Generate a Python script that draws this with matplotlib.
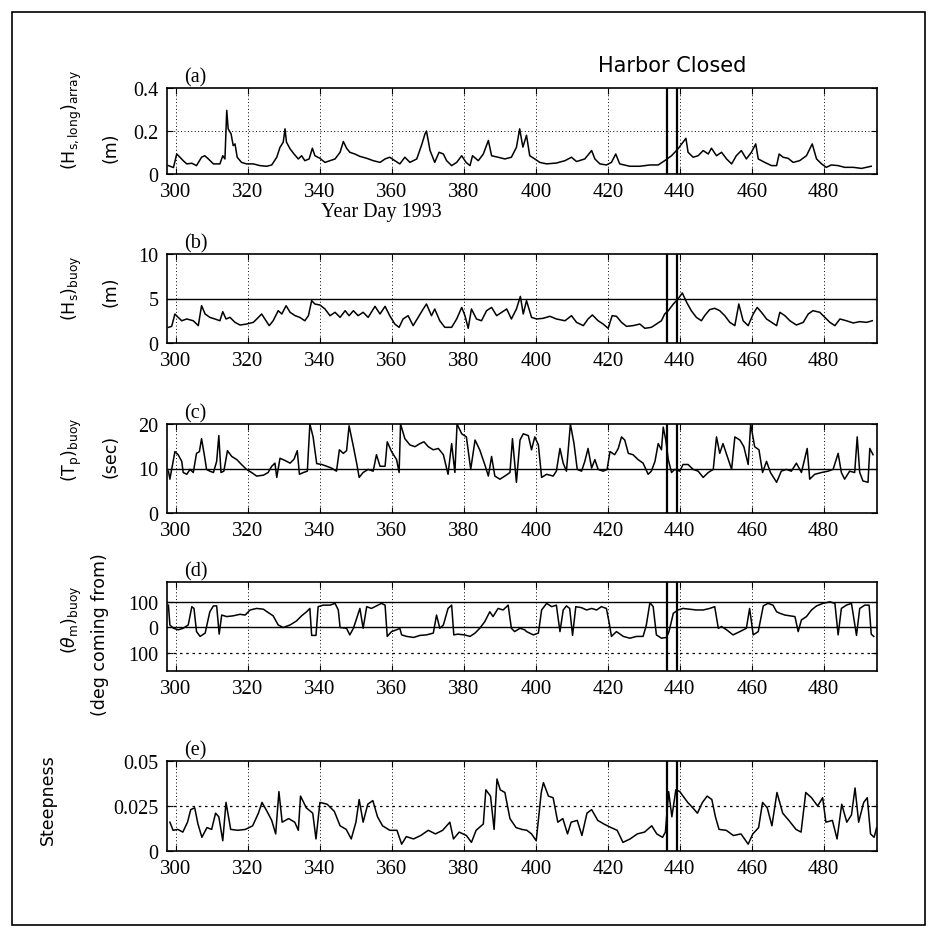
import matplotlib
matplotlib.use("Agg")
import matplotlib.pyplot as plt
from matplotlib.patches import Rectangle

plt.rcParams['mathtext.fontset'] = 'dejavusans'

# (a) long-period significant height at the array
days_a = [297.9, 299.3, 300.2, 301.1, 302, 303, 304.4, 305.7, 307.1, 308, 309, 310.4, 312.2, 313, 313.6,
          314.1, 314.5, 315.3, 315.9, 316.4, 317, 318.2, 319.6, 321.5, 323.3, 325.2, 326.6, 328, 328.9,
          329.8, 330.3, 330.7, 331.7, 332.8, 334, 334.9, 335.8, 337, 337.9, 338.6, 340, 341.4, 342.8,
          344.2, 345.6, 346.5, 347.4, 348.3, 349.7, 351.1, 353, 354.8, 356.7, 358.1, 359.4, 360.8, 362.2,
          363.6, 365, 366.9, 368.2, 369.2, 369.6, 370.6, 371.9, 373.1, 374.3, 375.2, 376.6, 378, 379.4,
          380.6, 381.7, 382.4, 384, 385.4, 386.8, 387.7, 389.5, 391.4, 393.2, 394.6, 395.5, 396.4, 397.4,
          398.3, 399.7, 401.1, 403, 405.7, 408.1, 409.9, 411.3, 413.6, 415.5, 416.4, 417.8, 419.6, 421,
          422.2, 423.3, 426.1, 428.9, 431.7, 434, 435.8, 437.7, 439.5, 440.9, 441.7, 442.3, 443.7, 445.1,
          446.5, 447.9, 448.8, 450.2, 451.6, 453, 454.4, 455.7, 457.1, 458.5, 459.9, 461.1, 461.8, 463.6,
          465.5, 466.9, 467.6, 468.7, 470.1, 471.5, 473.3, 475.2, 476.8, 478, 479.4, 480.7, 482.1, 484,
          485.8, 488.2, 490.5, 491.9, 493.2]
hs_long = [0.039, 0.030, 0.093, 0.078, 0.062, 0.047, 0.050, 0.039, 0.078, 0.085, 0.070, 0.047, 0.047, 0.085, 0.070,
           0.296, 0.210, 0.187, 0.132, 0.140, 0.078, 0.054, 0.047, 0.047, 0.039, 0.036, 0.042, 0.078, 0.124,
           0.148, 0.210, 0.148, 0.117, 0.093, 0.070, 0.085, 0.062, 0.070, 0.120, 0.085, 0.073, 0.054, 0.062,
           0.070, 0.101, 0.151, 0.120, 0.101, 0.093, 0.082, 0.073, 0.062, 0.054, 0.070, 0.078, 0.062, 0.047,
           0.078, 0.054, 0.070, 0.132, 0.187, 0.200, 0.109, 0.054, 0.101, 0.093, 0.062, 0.039, 0.054, 0.085,
           0.054, 0.039, 0.085, 0.062, 0.093, 0.156, 0.085, 0.078, 0.070, 0.078, 0.124, 0.210, 0.125, 0.180,
           0.085, 0.070, 0.054, 0.047, 0.051, 0.062, 0.078, 0.058, 0.070, 0.109, 0.070, 0.047, 0.042, 0.054,
           0.093, 0.047, 0.036, 0.036, 0.042, 0.042, 0.062, 0.085, 0.117, 0.148, 0.166, 0.101, 0.078, 0.085,
           0.109, 0.093, 0.120, 0.085, 0.101, 0.070, 0.047, 0.085, 0.109, 0.070, 0.101, 0.140, 0.070, 0.054,
           0.039, 0.039, 0.093, 0.078, 0.073, 0.054, 0.062, 0.085, 0.140, 0.070, 0.047, 0.031, 0.042, 0.039,
           0.031, 0.031, 0.026, 0.031, 0.036]

# (b) buoy significant wave height
days_b = [297.9, 298.8, 299.7, 300.6, 301.6, 303, 304.8, 306.2, 307.1, 308.1, 309.4, 310.8, 312.2, 313, 313.9,
          315, 316.4, 317.8, 319.6, 321.5, 322.9, 323.8, 324.7, 325.9, 327, 328.4, 329.4, 330.6, 331.7,
          333.1, 334.4, 335.8, 336.8, 337.7, 338.6, 340, 341.4, 342.8, 344.2, 345.6, 347, 348.1, 349.3,
          350.6, 352, 353.4, 355.3, 356.7, 358.1, 359.4, 360.8, 362, 363.1, 364.5, 365.9, 367.3, 368.7,
          369.6, 371, 371.9, 373.3, 374.7, 376.6, 378, 379.4, 380.3, 381.2, 382.1, 383.5, 384.9, 386.3,
          387.7, 389.1, 390.5, 391.9, 393.2, 394.6, 395.7, 396.5, 397.4, 398.8, 400.2, 402, 403.9, 405.7,
          408.1, 409.9, 411.3, 413.2, 414.5, 415.7, 417.3, 418.7, 420.1, 421.2, 422.4, 423.8, 425.2, 427,
          428.9, 430.3, 432.1, 433.5, 434.9, 435.8, 436.8, 438.2, 439.5, 440.7, 441.9, 443.2, 444.6, 446,
          446.9, 448.3, 449.7, 451.1, 452.5, 453.9, 455.3, 456.4, 457.6, 459, 460.4, 461.5, 462.7, 464.1,
          465.5, 466.9, 467.8, 469.2, 470.6, 472.4, 474.3, 475.7, 477, 478.9, 480.3, 481.7, 483.1, 484.5,
          486.3, 488.2, 490, 491.9, 493.5]
hs_buoy = [1.76, 1.87, 3.26, 2.88, 2.50, 2.70, 2.50, 1.95, 4.19, 3.26, 2.88, 2.70, 2.50, 3.52, 2.70,
           2.88, 2.32, 2.02, 2.13, 2.32, 2.88, 3.26, 2.70, 1.95, 2.50, 3.63, 3.26, 4.19, 3.45,
           3.07, 2.88, 2.50, 3.07, 4.76, 4.38, 4.27, 3.82, 3.07, 3.45, 2.88, 3.63, 3.07, 3.63,
           3.07, 3.45, 2.88, 4.12, 3.26, 4.12, 3.07, 2.13, 1.76, 2.70, 3.07, 1.95, 2.88, 3.82,
           4.38, 3.07, 3.82, 2.50, 1.76, 1.76, 2.70, 4.00, 3.07, 1.65, 3.82, 2.70, 2.50, 3.63,
           4.00, 3.07, 3.45, 3.82, 2.70, 3.82, 5.24, 3.26, 4.76, 2.88, 2.70, 2.77, 3.00, 2.70,
           2.50, 3.07, 2.32, 1.95, 2.70, 3.15, 2.50, 2.13, 1.65, 3.07, 3.00, 2.32, 1.87, 1.95,
           2.13, 1.65, 1.76, 2.13, 2.50, 3.26, 3.63, 4.38, 4.94, 5.62, 4.57, 3.63, 2.88, 2.50,
           3.07, 3.75, 3.90, 3.63, 3.07, 2.32, 1.95, 4.38, 2.50, 1.95, 3.26, 4.00, 3.45, 2.70,
           2.32, 1.95, 3.45, 3.07, 2.50, 2.02, 2.32, 3.26, 3.63, 3.45, 2.88, 2.32, 1.95, 2.70,
           2.50, 2.25, 2.40, 2.32, 2.50]

# (c) buoy peak period
days_c = [297.9, 298.3, 298.8, 299.7, 300.6, 301.6, 302, 303, 303.9, 304.8, 305.7, 306.5, 307.1, 307.8, 308.5,
          309.4, 310.4, 311.3, 311.9, 312.5, 313.3, 314.3, 315.5, 316.9, 318.2, 319.6, 321, 322.4, 324.3,
          325.6, 326.6, 327.5, 328, 328.9, 330.3, 331.7, 332.8, 333.7, 334.3, 335.4, 336.5, 337.2, 338.1,
          339.1, 340.5, 341.9, 343.2, 344.6, 345.4, 346.5, 347.4, 348.1, 349.3, 350.2, 350.9, 352, 353.4,
          354.8, 355.7, 356.7, 358.1, 358.7, 359.9, 361.3, 362, 362.4, 363.6, 365, 366.4, 367.8, 368.9,
          370.1, 371.5, 372.9, 374.3, 375.6, 376.6, 377.5, 378.1, 379.4, 380.7, 381.9, 383.1, 384.4, 385.8,
          386.8, 387.7, 388.6, 390, 391.4, 392.8, 393.5, 394.6, 395.6, 396.5, 397.9, 398.8, 399.7, 400.7,
          401.6, 403, 404.8, 405.7, 406.7, 407.6, 408.5, 409.6, 410.6, 411.5, 412.7, 413.6, 414.5, 415.5,
          416.4, 417.3, 418.7, 419.8, 420.6, 421.9, 422.9, 423.8, 424.7, 425.7, 427, 428.4, 429.8, 431.2,
          432.1, 433.1, 434, 434.9, 435.4, 436.1, 436.8, 437.7, 438.6, 440, 440.9, 442.3, 443.7, 445.1,
          446.5, 447.9, 449.3, 450.2, 451.1, 452, 453.2, 454.4, 455.3, 456.7, 457.8, 459, 459.7, 460.8,
          462, 463, 464.1, 465.2, 466.9, 468.2, 469.6, 471, 472.4, 473.8, 475.4, 476.1, 477.5, 479.4,
          481.2, 482.6, 484, 484.9, 485.8, 487.2, 488.6, 489.3, 490, 490.9, 492.3, 492.8, 493.7]
tp_buoy = [9.4, 7.6, 9.8, 13.8, 13.1, 11.6, 9.1, 8.7, 9.8, 9.1, 13.4, 13.8, 16.7, 13.4, 9.8,
           9.4, 9.1, 11.6, 17.4, 9.1, 9.4, 14.0, 12.7, 12.0, 10.9, 9.8, 9.1, 8.3, 8.5,
           9.1, 10.5, 11.2, 8.0, 12.3, 11.8, 11.2, 12.1, 14.0, 8.7, 9.1, 9.4, 20.0, 17.1,
           11.1, 10.9, 10.5, 10.1, 9.4, 14.2, 13.4, 14.0, 19.6, 14.9, 11.2, 8.0, 9.1, 9.8,
           9.4, 13.1, 10.5, 10.5, 16.0, 13.8, 12.0, 9.1, 20.0, 16.7, 15.3, 14.9, 15.6, 16.0,
           14.9, 14.2, 14.5, 13.1, 8.7, 15.6, 9.1, 20.0, 17.8, 17.1, 9.8, 16.4, 14.2, 10.9,
           8.3, 12.7, 8.3, 7.6, 8.3, 9.1, 16.7, 6.9, 16.4, 17.8, 17.4, 14.2, 17.1, 15.3,
           8.0, 8.7, 8.3, 9.4, 14.5, 11.2, 9.4, 20.0, 15.6, 9.8, 9.4, 11.6, 14.5, 10.1,
           12.0, 9.8, 9.4, 9.8, 13.8, 13.1, 14.5, 17.1, 16.4, 13.4, 13.1, 12.0, 11.2, 8.7,
           9.4, 11.6, 15.6, 14.2, 19.3, 16.4, 12.0, 9.1, 9.8, 9.4, 10.9, 10.9, 9.8, 9.4,
           8.0, 9.1, 9.8, 17.1, 13.4, 15.6, 12.7, 9.8, 17.1, 16.4, 14.9, 10.9, 20.0, 14.9,
           14.2, 9.1, 11.6, 9.1, 6.9, 9.4, 9.8, 9.4, 11.2, 9.1, 14.5, 7.6, 8.7, 9.1,
           9.4, 9.8, 13.4, 9.1, 7.6, 9.4, 9.1, 17.1, 9.1, 7.2, 6.9, 14.5, 13.1]

# (d) buoy mean direction, degrees coming from
days_d = [297.9, 298.3, 299.3, 300.6, 302, 303.4, 304.4, 305, 305.7, 306.7, 308.1, 309.4, 310.4, 311.3, 312,
          312.7, 314.1, 315.9, 317.8, 319.2, 320.6, 322.4, 324.3, 325.6, 327, 328.4, 329.8, 331.7, 333.5,
          334.9, 336.3, 337.2, 337.7, 338.9, 339.5, 340.9, 342.8, 344.2, 345.1, 345.6, 347.4, 348.3, 349.3,
          350.2, 351.1, 352, 353, 354.3, 355.7, 357.1, 358.1, 358.7, 359.9, 361.3, 362.2, 362.7, 364.1,
          366, 367.8, 369.6, 371.5, 372.4, 373.3, 374.3, 375.6, 376.6, 377.2, 378.3, 380.2, 381.7, 383.1,
          384.4, 385.8, 387.2, 388.1, 389.5, 390.9, 392.3, 393.2, 394.1, 395.6, 396.9, 397.4, 399.3, 400.7,
          401.6, 403, 404.4, 405.7, 406.7, 407.6, 408.5, 409.4, 410.2, 411.1, 412.7, 414.1, 415.5, 416.9,
          418.2, 419.6, 420.4, 421, 422.4, 424.3, 426.1, 428, 429.8, 430.7, 431.7, 432.6, 433.5, 434.9,
          436.3, 437, 438.2, 439.5, 440.9, 442.8, 444.6, 446.5, 448.3, 449.7, 450.7, 451.6, 453, 454.8,
          456.7, 458.5, 459.4, 460.4, 461.8, 463.2, 464.5, 465.9, 466.9, 467.8, 469.2, 470.6, 472, 472.9,
          473.8, 475.2, 476.6, 478, 479.8, 481.7, 483.1, 484, 484.9, 486.3, 487.7, 489.1, 490, 491.4,
          492.6, 493.2, 493.9]
theta_buoy = [87, 9, -4, -10, -4, 9, 81, 74, -17, -36, -23, 61, 84, 84, -27,
              48, 42, 45, 51, 48, 68, 74, 71, 58, 45, 9, -1, 9, 25,
              45, 61, 74, -32, -32, 81, 87, 87, 94, 68, -1, -4, -30, -4,
              35, 74, -4, 81, 74, 84, 94, 87, -36, -17, -10, -4, -30, -36,
              -40, -32, -30, -23, 48, -4, 9, 74, 87, -30, -27, -30, -36, -23,
              -4, 22, 61, 42, 74, 68, 87, -4, -17, -4, -10, -17, -30, -23,
              68, 94, 81, 87, -17, 68, 84, 74, -32, 81, 77, 68, 74, 68,
              81, 74, 16, -36, -17, -36, -43, -36, -36, 9, 97, 81, -30, -43,
              -40, -17, 55, 68, 74, 71, 68, 68, 74, 81, -4, 3, -10, -30,
              -17, -4, 74, -30, -17, 84, 94, 87, 61, 55, 48, 45, 42, -17,
              29, 42, 68, 84, 94, 100, 94, -30, 74, 87, 94, -32, 74, 87,
              87, -27, -36]

# (e) wave steepness
days_e = [298.3, 299.2, 300.5, 301.9, 303.2, 304.1, 305.2, 306.1, 307.2, 308.6, 309.9, 311, 311.9, 313, 313.9,
          315.2, 317.2, 319.3, 321.3, 322.9, 323.9, 325.3, 326.6, 327.7, 328.6, 329.5, 331.3, 333, 334,
          334.6, 336.2, 338, 338.9, 340, 342, 344, 345.6, 347.3, 348.7, 350, 350.9, 352, 353.3,
          354.7, 356, 357.4, 359.4, 361.4, 362.7, 364, 366, 368, 370.1, 372.1, 374.1, 376.1, 377.1,
          378.7, 380.7, 382.1, 383.4, 385.4, 386.1, 387.4, 388.4, 389.2, 390.1, 391.4, 392.8, 394.5, 396.1,
          397.5, 398.8, 400.1, 401.5, 402.1, 403.5, 404.8, 406.1, 407.5, 408.8, 409.8, 411.5, 412.8, 414.2,
          415.5, 417.2, 418.9, 420.9, 422.6, 424.2, 426.2, 428.2, 430.2, 432.2, 433.6, 435.2, 436, 436.9,
          437.8, 438.9, 440, 440.9, 442.2, 443.6, 444.9, 446.3, 447.6, 448.9, 449.9, 450.9, 452.9, 454.9,
          457, 459, 460.3, 461.9, 463, 464.3, 465.6, 467, 468.6, 470.3, 472.3, 473.7, 475, 476.6,
          478.3, 479.7, 480.6, 482.4, 483.7, 485, 486.4, 487.7, 488.7, 489.7, 491.1, 492.1, 493, 494, 494.7]
steepness = [0.016, 0.0115, 0.012, 0.0105, 0.016, 0.023, 0.024, 0.015, 0.0076, 0.013, 0.012, 0.021, 0.019, 0.0057, 0.027,
             0.012, 0.0115, 0.012, 0.014, 0.021, 0.027, 0.022, 0.017, 0.0095, 0.033, 0.016, 0.018, 0.016, 0.0115,
             0.0305, 0.024, 0.021, 0.0067, 0.027, 0.026, 0.022, 0.014, 0.012, 0.0067, 0.016, 0.0286, 0.016, 0.026,
             0.028, 0.019, 0.014, 0.0115, 0.0115, 0.0038, 0.008, 0.0067, 0.0086, 0.0115, 0.0095, 0.0115, 0.016, 0.0067,
             0.0105, 0.0086, 0.0048, 0.0115, 0.015, 0.034, 0.0305, 0.012, 0.040, 0.034, 0.0325, 0.018, 0.013, 0.012,
             0.0115, 0.0095, 0.0057, 0.0325, 0.038, 0.0305, 0.0296, 0.016, 0.018, 0.0095, 0.016, 0.017, 0.0086, 0.021,
             0.023, 0.017, 0.015, 0.013, 0.0115, 0.0048, 0.0067, 0.0095, 0.0105, 0.014, 0.0095, 0.0076, 0.0105, 0.033,
             0.019, 0.034, 0.033, 0.0305, 0.027, 0.024, 0.021, 0.027, 0.0305, 0.0286, 0.019, 0.012, 0.0115, 0.0086,
             0.0095, 0.0038, 0.0095, 0.013, 0.027, 0.024, 0.014, 0.0325, 0.021, 0.017, 0.012, 0.0105, 0.0325, 0.0296,
             0.025, 0.0296, 0.016, 0.017, 0.0067, 0.026, 0.016, 0.020, 0.035, 0.016, 0.027, 0.0296, 0.0095, 0.0076, 0.013]

year_ticks = [300, 320, 340, 360, 380, 400, 420, 440, 460, 480]
harbor_days = [436.4, 439.1]

serif = 'Liberation Serif'
sans = 'DejaVu Sans'

fig = plt.figure(figsize=(9.38, 9.37), dpi=100)

# panel boxes in pixels: (top, bottom)
boxes = [(89, 175), (255, 344), (425, 514), (583, 672), (762, 852)]
left_px, right_px = 167, 877
W, H = 938, 937


def make_axes(top, bottom):
    return fig.add_axes([left_px / W, 1 - bottom / H, (right_px - left_px) / W, (bottom - top) / H])


panels = [
    (days_a, hs_long, (0, 0.4), [0, 0.2, 0.4], ['0', '0.2', '0.4'], '(a)'),
    (days_b, hs_buoy, (0, 10), [0, 5, 10], ['0', '5', '10'], '(b)'),
    (days_c, tp_buoy, (0, 20), [0, 10, 20], ['0', '10', '20'], '(c)'),
    (days_d, theta_buoy, (-172, 178), [-100, 0, 100], ['100', '0', '100'], '(d)'),
    (days_e, steepness, (0, 0.05), [0, 0.025, 0.05], ['0', '0.025', '0.05'], '(e)'),
]

axes = []
for (top, bottom), (x, y, ylim, yt, ytl, tag) in zip(boxes, panels):
    ax = make_axes(top, bottom)
    axes.append(ax)
    ax.plot(x, y, color='black', lw=1.1, zorder=3)
    ax.set_xlim(297.5, 494.8)
    ax.set_ylim(*ylim)
    ax.set_xticks(year_ticks)
    ax.set_xticklabels([str(t) for t in year_ticks], fontfamily=serif, fontsize=15)
    ax.set_yticks(yt)
    ax.set_yticklabels(ytl, fontfamily=serif, fontsize=14.5)
    ax.tick_params(direction='in', length=4, width=0.8, top=True, right=True, pad=6)
    for t in year_ticks:
        ax.axvline(t, color='black', ls=(0, (1, 2.5)), lw=0.7, zorder=1)
    for d in harbor_days:
        ax.axvline(d, color='black', lw=1.6, zorder=4)
    for s in ax.spines.values():
        s.set_linewidth(1.2)
    ax.text(0.024, 1.02, tag, transform=ax.transAxes, ha='left', va='bottom',
            fontfamily=serif, fontsize=14.5)

# reference levels
axes[0].axhline(0.2, color='black', ls=(0, (1, 2.5)), lw=0.7, zorder=1)
axes[1].axhline(5, color='black', lw=1.0, zorder=1)
axes[2].axhline(10, color='black', lw=1.0, zorder=1)
axes[3].axhline(100, color='black', lw=1.0, zorder=1)
axes[3].axhline(0, color='black', lw=1.0, zorder=1)
axes[3].axhline(-100, color='black', ls=(0, (2, 3)), lw=0.9, zorder=1)
axes[4].axhline(0.025, color='black', ls=(0, (2, 3)), lw=0.9, zorder=1)

axes[0].text(438.0, 1.15, 'Harbor Closed', transform=axes[0].get_xaxis_transform(),
             ha='center', va='bottom', fontfamily=sans, fontsize=15)
axes[0].text(357, -0.33, 'Year Day 1993', transform=axes[0].get_xaxis_transform(),
             ha='center', va='top', fontfamily=serif, fontsize=14.5)

# y labels, two lines each, placed in figure pixels
ylabels = [
    (r'(H$_{\mathrm{s,long}}$)$_{\mathrm{array}}$', 72, 120),
    ('(m)', 110, 148),
    (r'(H$_{\mathrm{s}}$)$_{\mathrm{buoy}}$', 72, 288),
    ('(m)', 110, 292),
    (r'(T$_{\mathrm{p}}$)$_{\mathrm{buoy}}$', 72, 450),
    ('(sec)', 110, 456),
    (r'($\theta_{\mathrm{m}}$)$_{\mathrm{buoy}}$', 72, 620),
    ('(deg coming from)', 100, 635),
    ('Steepness', 48, 800),
]
for txt, px, py in ylabels:
    fig.text(px / W, 1 - py / H, txt, rotation=90, ha='center', va='center',
             fontfamily=sans, fontsize=12.5)

# outer frame
fig.patches.append(Rectangle((12 / W, 1 - 926 / H), (925 - 12) / W, (926 - 13) / H,
                             transform=fig.transFigure, fill=False, lw=1.2, color='black'))

fig.savefig('out.png', dpi=100, facecolor='white')
